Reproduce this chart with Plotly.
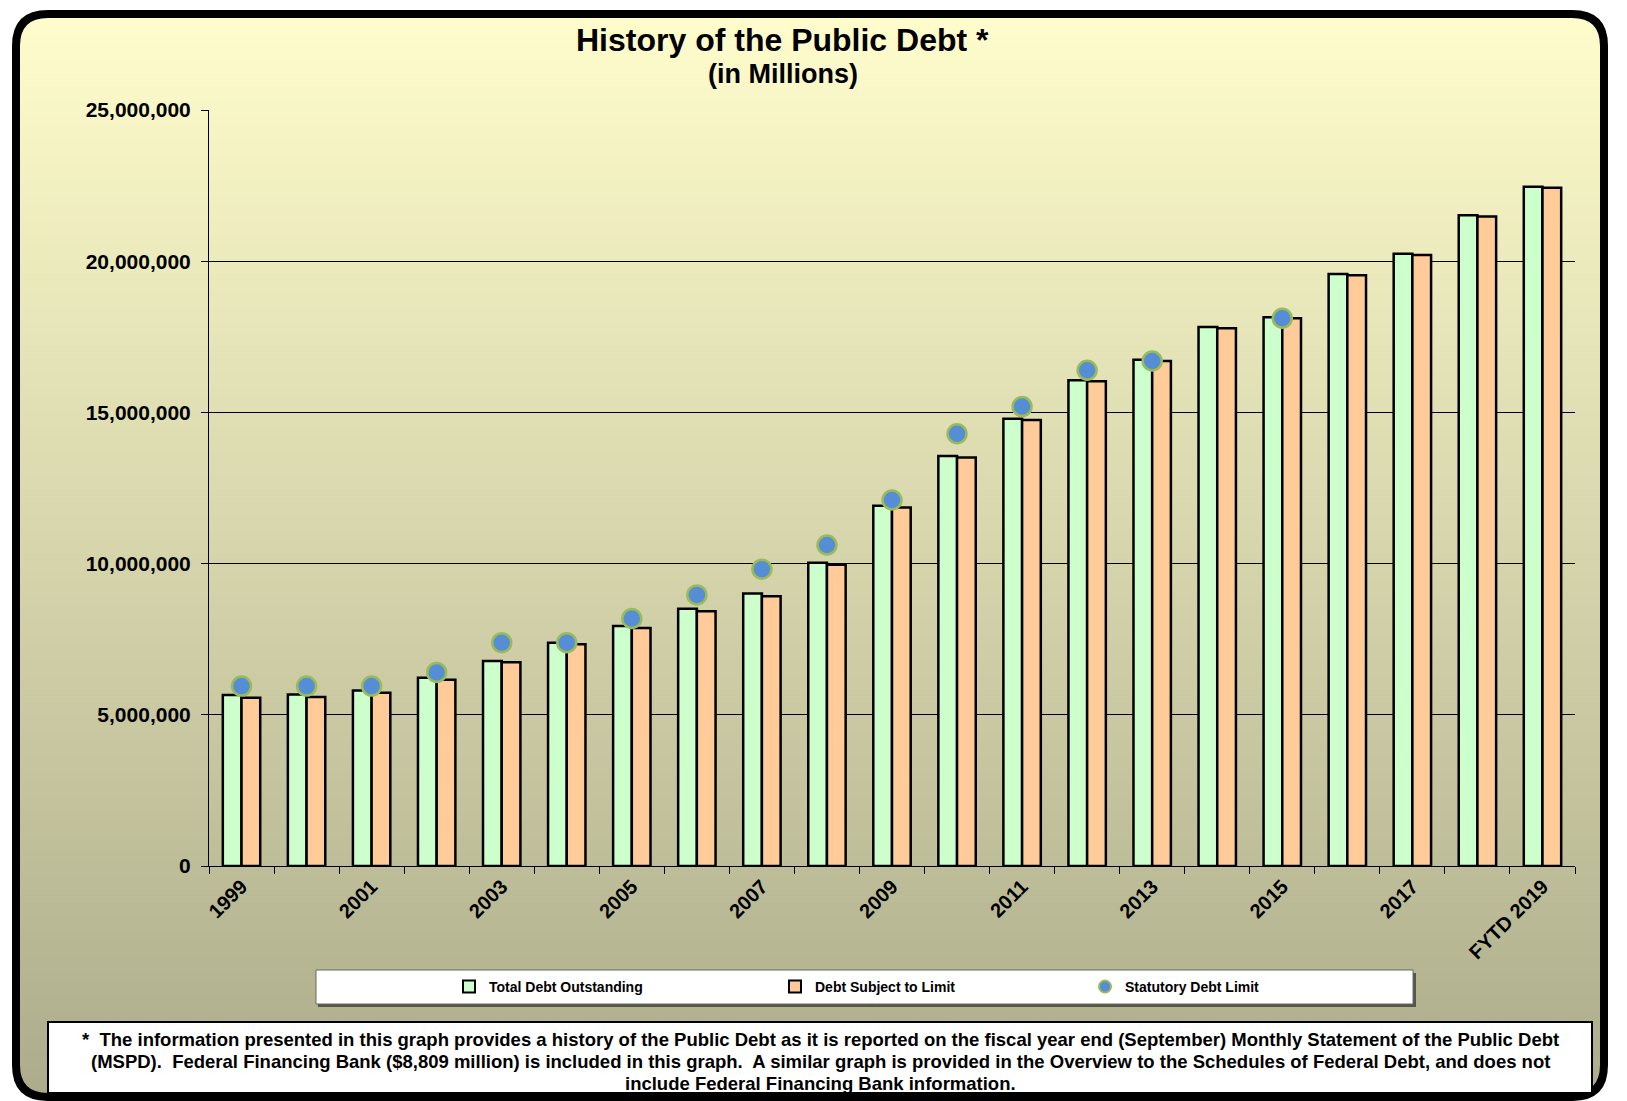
import plotly.graph_objects as go

# ---------------- data (millions of dollars) ----------------
categories = ["1999", "2000", "2001", "2002", "2003", "2004", "2005", "2006", "2007",
              "2008", "2009", "2010", "2011", "2012", "2013", "2014", "2015", "2016",
              "2017", "2018", "FYTD 2019"]
tick_labels = ["1999", "", "2001", "", "2003", "", "2005", "", "2007", "", "2009", "",
               "2011", "", "2013", "", "2015", "", "2017", "", "FYTD 2019"]
total_debt = [5656271, 5674178, 5807463, 6228236, 6783231, 7379053, 7932710, 8506974,
              9007653, 10024724, 11909829, 13561623, 14790340, 16066241, 16738184,
              17824071, 18150618, 19573445, 20244900, 21516058, 22460000]
subject_to_limit = [5567675, 5591625, 5732802, 6161431, 6737553, 7333350, 7871040, 8420278,
                    8921343, 9959894, 11853126, 13510840, 14746553, 16027073, 16699396,
                    17781107, 18112975, 19538466, 20208638, 21474848, 22430000]
statutory_limit = [5950000, 5950000, 5950000, 6400000, 7384000, 7384000, 8184000, 8965000,
                   9815000, 10615000, 12104000, 14294000, 15194000, 16394000, 16699396,
                   None, 18113000, None, None, None, None]

title_text = "History of the Public Debt *"
subtitle_text = "(in Millions)"
footnote_lines = [
    "*  The information presented in this graph provides a history of the Public Debt as it is "
    "reported on the fiscal year end (September) Monthly Statement of the Public Debt",
    "(MSPD).  Federal Financing Bank ($8,809 million) is included in this graph.  A similar "
    "graph is provided in the Overview to the Schedules of Federal Debt, and does not",
    "include Federal Financing Bank information.",
]

# ---------------- geometry ----------------
W, H = 1627, 1101
ML, MR, MT, MB = 209, 52, 110, 235
PW = W - ML - MR
PH = H - MT - MB


def pxx(px):
    return (px - ML) / PW


def pxy(py):
    return (H - MB - py) / PH


FONT = "Arial, 'Liberation Sans', sans-serif"

fig = go.Figure()

fig.add_trace(go.Bar(
    x=categories, y=total_debt, name="Total Debt Outstanding",
    marker=dict(color="#CCFFCC", line=dict(color="black", width=2.5)),
    legend="legend",
))
fig.add_trace(go.Bar(
    x=categories, y=subject_to_limit, name="Debt Subject to Limit",
    marker=dict(color="#FFCC99", line=dict(color="black", width=2.5)),
    legend="legend2",
))
fig.add_trace(go.Scatter(
    x=categories, y=statutory_limit, name="Statutory Debt Limit", mode="markers",
    marker=dict(color="#558ED5", size=19, line=dict(color="#9BBB59", width=2.5)),
    legend="legend3",
))

# ---------------- background: rounded panel with vertical gradient ----------------
shapes = []
bx0, bx1, by0, by1, r = 16, 1604, 14, 1097, 32
top_c = (255, 253, 204)
bot_c = (172, 172, 139)
step = 4
y = by0
while y < by1:
    ya, yb = y, min(y + step, by1)
    ym = (ya + yb) / 2
    t = (ym - by0) / (by1 - by0)
    col = tuple(round(top_c[i] + (bot_c[i] - top_c[i]) * t) for i in range(3))
    d = min(ym - by0, by1 - ym)
    inset = 0
    if d < r:
        inset = r - (r * r - (r - d) ** 2) ** 0.5
    shapes.append(dict(type="rect", xref="paper", yref="paper", layer="below",
                       x0=pxx(bx0 + inset), x1=pxx(bx1 - inset), y0=pxy(yb + 0.5), y1=pxy(ya),
                       fillcolor="rgb(%d,%d,%d)" % col, line=dict(width=0)))
    y += step


def P(px, py):
    return "%.5f,%.5f" % (pxx(px), pxy(py))


path = ("M " + P(bx0 + r, by0) + " L " + P(bx1 - r, by0) +
        " Q " + P(bx1, by0) + " " + P(bx1, by0 + r) +
        " L " + P(bx1, by1 - r) +
        " Q " + P(bx1, by1) + " " + P(bx1 - r, by1) +
        " L " + P(bx0 + r, by1) +
        " Q " + P(bx0, by1) + " " + P(bx0, by1 - r) +
        " L " + P(bx0, by0 + r) +
        " Q " + P(bx0, by0) + " " + P(bx0 + r, by0) + " Z")
shapes.append(dict(type="path", xref="paper", yref="paper", layer="below", path=path,
                   line=dict(color="black", width=8)))

# legend box (with slight shadow)
shapes.append(dict(type="rect", xref="paper", yref="paper", layer="below",
                   x0=pxx(318), x1=pxx(1416), y0=pxy(1007), y1=pxy(973),
                   fillcolor="#55554a", line=dict(width=0)))
shapes.append(dict(type="rect", xref="paper", yref="paper", layer="below",
                   x0=pxx(316), x1=pxx(1413), y0=pxy(1004), y1=pxy(970),
                   fillcolor="white", line=dict(color="#6b6b60", width=1)))
# footnote box
shapes.append(dict(type="rect", xref="paper", yref="paper", layer="below",
                   x0=pxx(48), x1=pxx(1592), y0=pxy(1093), y1=pxy(1022),
                   fillcolor="white", line=dict(color="black", width=2)))

annotations = [
    dict(text=title_text, xref="paper", yref="paper", x=pxx(782), y=pxy(40),
         xanchor="center", yanchor="middle", showarrow=False,
         font=dict(family=FONT, size=32, color="black", weight="bold")),
    dict(text=subtitle_text, xref="paper", yref="paper", x=pxx(783), y=pxy(74),
         xanchor="center", yanchor="middle", showarrow=False,
         font=dict(family=FONT, size=27, color="black", weight="bold")),
]
for line_text, ly in zip(footnote_lines, [1039, 1061, 1083]):
    annotations.append(dict(text=line_text, xref="paper", yref="paper", x=pxx(820), y=pxy(ly),
                            xanchor="center", yanchor="middle", showarrow=False,
                            font=dict(family=FONT, size=18.5, color="black", weight="bold")))

leg_common = dict(orientation="h", xanchor="left", yanchor="middle", y=pxy(987),
                  bgcolor="rgba(0,0,0,0)", borderwidth=0, itemsizing="constant",
                  font=dict(family=FONT, size=14, color="black", weight="bold"))

fig.update_layout(
    width=W, height=H,
    margin=dict(l=ML, r=MR, t=MT, b=MB, pad=0),
    paper_bgcolor="white",
    plot_bgcolor="rgba(0,0,0,0)",
    barmode="group", bargap=0.425, bargroupgap=0,
    shapes=shapes,
    annotations=annotations,
    legend=dict(leg_common, x=pxx(488 - 39)),
    legend2=dict(leg_common, x=pxx(814 - 39)),
    legend3=dict(leg_common, x=pxx(1124 - 39)),
    showlegend=True,
    xaxis=dict(
        type="category", categoryorder="array", categoryarray=categories,
        range=[-0.5, len(categories) - 0.5], autorange=False,
        tickmode="array", tickvals=categories, ticktext=tick_labels,
        tickangle=-45, tickson="boundaries", ticks="outside", ticklen=7,
        tickcolor="black", showline=True, linecolor="black", linewidth=1,
        showgrid=False, zeroline=False,
        tickfont=dict(family=FONT, size=20, color="black", weight="bold"),
    ),
    yaxis=dict(
        range=[0, 25000000], autorange=False, tick0=0, dtick=5000000, tickformat=",d",
        showgrid=True, gridcolor="black", gridwidth=1,
        showline=True, linecolor="black", linewidth=1,
        ticks="outside", ticklen=7, tickcolor="black", zeroline=False,
        ticklabelstandoff=6,
        tickfont=dict(family=FONT, size=21, color="black", weight="bold"),
    ),
)

fig.write_html("out.html", config={"displayModeBar": False},
               post_script="document.body.style.margin='0px';")
